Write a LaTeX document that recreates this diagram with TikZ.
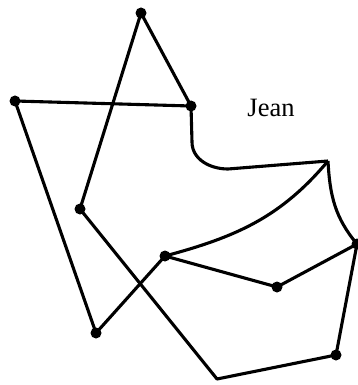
\documentclass[tikz,border=0pt]{standalone}
\usepackage{fontspec}
\setmainfont{Liberation Serif}
\begin{document}
\begin{tikzpicture}[x=1pt,y=-1pt,line width=3.1pt,line join=round,
    dot/.style={inner sep=0pt,minimum size=11pt,circle,fill}]
   \useasboundingbox (0,0) rectangle (357,385);
   \foreach \n/\x/\y in
     {top/141/13,
      left/15/101,
      mid/191/106,
      inner/80/209,
      hub/165/256,
      dip/277/287,
      east/357/244,
      sw/96/333,
      se/336/355
     }
     \node[dot] (\n) at (\x,\y) {};
    \coordinate (ne) at (328,161);
    \coordinate (bot) at (217,379);
    \node[font=\fontsize{26.5}{30}\selectfont] (name) at (271,108) {Jean};
    \draw (left.center) -- (mid.center) -- (top.center) -- (inner.center)
          -- (bot) -- (se.center) -- (east.center);
    \draw (left.center) -- (sw.center) -- (hub.center) -- (dip.center) -- (east.center);
    \draw (mid.center) -- (192,142) to[out=-90,in=180] (228,169) -- (ne);
    \draw (ne) to[out=-130,in=15] (hub.center);
    \draw (ne) to[out=-87,in=130] (east.center);
\end{tikzpicture}
\end{document}
